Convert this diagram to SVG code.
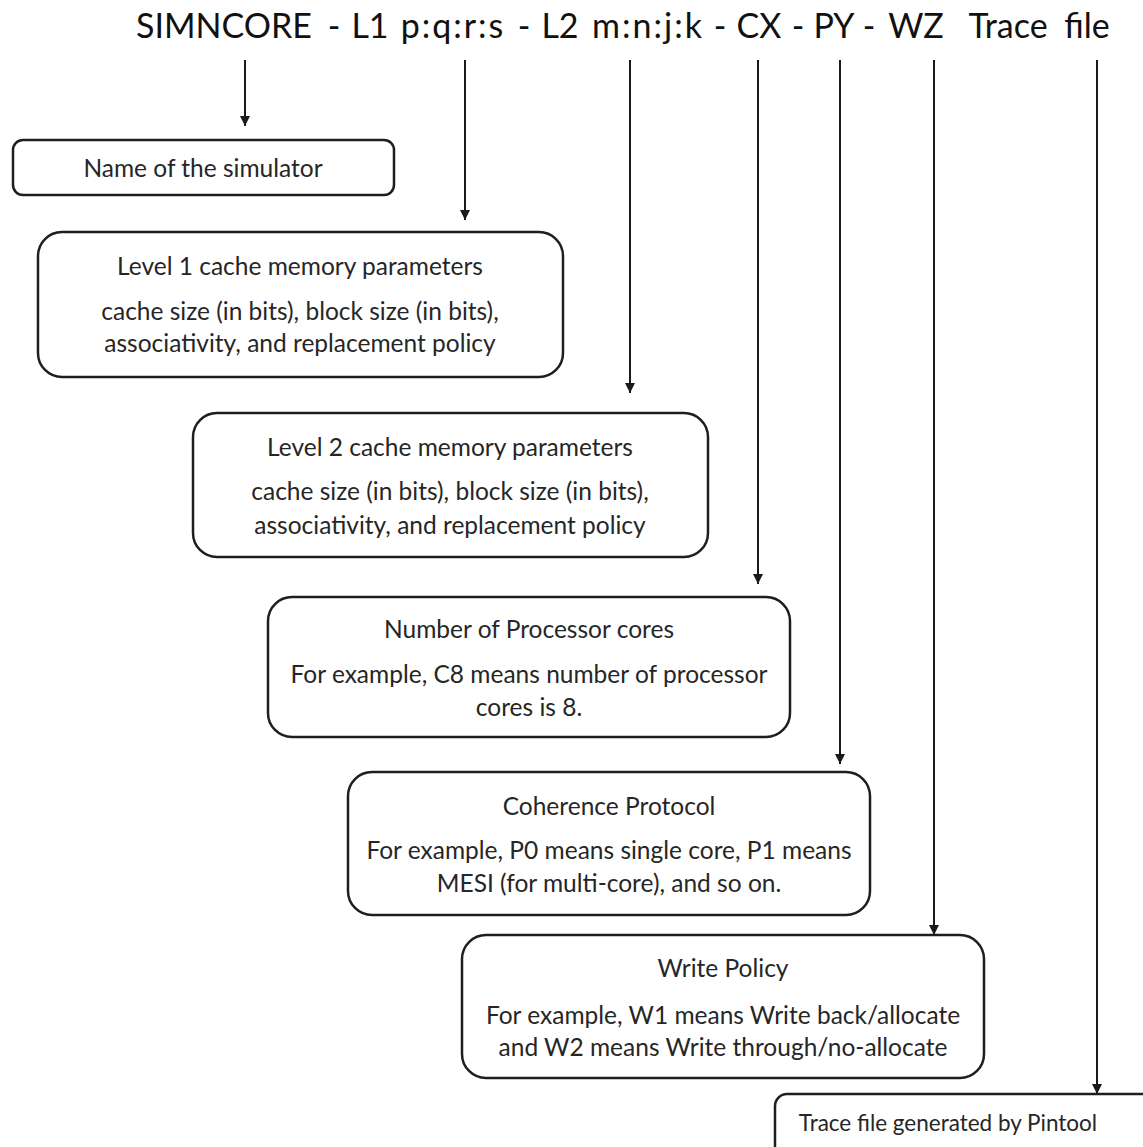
<svg xmlns="http://www.w3.org/2000/svg" width="1143" height="1147" viewBox="0 0 1143 1147">
  <style>
    .box { fill: #ffffff; stroke: #1e1e1e; stroke-width: 2.5; }
    .lbl { font-family: Lato, "Open Sans", "Liberation Sans", sans-serif; font-size: 24.5px; fill: #262626; text-anchor: middle; }
    .title { font-family: Lato, "Open Sans", "Liberation Sans", sans-serif; font-size: 34px; fill: #111; text-anchor: middle; }
    .wide { letter-spacing: 2px; }
    .conn { stroke: #1a1a1a; stroke-width: 2; fill: none; marker-end: url(#head); }
  </style>
  <defs>
    <marker id="head" viewBox="0 0 10 10" refX="10" refY="5" markerWidth="5" markerHeight="5" markerUnits="strokeWidth" orient="auto">
      <path d="M0,0 L10,5 L0,10 Z" fill="#1a1a1a"/>
    </marker>
  </defs>

  <rect width="1143" height="1147" fill="#ffffff"/>

  <!-- file-name pattern; each field is centred on its own x -->
  <text class="title" y="38"><tspan x="224">SIMNCORE</tspan><tspan x="334">-</tspan><tspan x="370">L1</tspan><tspan class="wide" x="453">p:q:r:s</tspan><tspan x="524">-</tspan><tspan x="560">L2</tspan><tspan class="wide" x="648">m:n:j:k</tspan><tspan x="720">-</tspan><tspan x="759">CX</tspan><tspan x="798">-</tspan><tspan x="834">PY</tspan><tspan x="869">-</tspan><tspan x="916">WZ</tspan><tspan x="1008">Trace</tspan><tspan x="1087">file</tspan></text>

  <g id="connectors">
    <line class="conn" x1="245" y1="60" x2="245" y2="126"/>
    <line class="conn" x1="465" y1="60" x2="465" y2="220"/>
    <line class="conn" x1="630" y1="60" x2="630" y2="393"/>
    <line class="conn" x1="758" y1="60" x2="758" y2="584"/>
    <line class="conn" x1="840" y1="60" x2="840" y2="764"/>
    <line class="conn" x1="934" y1="60" x2="934" y2="935"/>
    <line class="conn" x1="1097" y1="60" x2="1097" y2="1094"/>
  </g>

  <g id="simulator-name">
    <rect class="box" x="13" y="140" width="381" height="55" rx="10"/>
    <text class="lbl" x="203" y="177">Name of the simulator</text>
  </g>

  <g id="l1-params">
    <rect class="box" x="38" y="232" width="525" height="145" rx="24"/>
    <text class="lbl" x="300" y="275">Level 1 cache memory parameters</text>
    <text class="lbl" x="300" y="320">cache size (in bits), block size (in bits),</text>
    <text class="lbl" x="300" y="352">associativity, and replacement policy</text>
  </g>

  <g id="l2-params">
    <rect class="box" x="193" y="413" width="515" height="144" rx="24"/>
    <text class="lbl" x="450" y="456">Level 2 cache memory parameters</text>
    <text class="lbl" x="450" y="500">cache size (in bits), block size (in bits),</text>
    <text class="lbl" x="450" y="534">associativity, and replacement policy</text>
  </g>

  <g id="cores">
    <rect class="box" x="268" y="597" width="522" height="140" rx="24"/>
    <text class="lbl" x="529" y="638">Number of Processor cores</text>
    <text class="lbl" x="529" y="683">For example, C8 means number of processor</text>
    <text class="lbl" x="529" y="716">cores is 8.</text>
  </g>

  <g id="coherence">
    <rect class="box" x="348" y="772" width="522" height="143" rx="24"/>
    <text class="lbl" x="609" y="815">Coherence Protocol</text>
    <text class="lbl" x="609" y="859">For example, P0 means single core, P1 means</text>
    <text class="lbl" x="609" y="892">MESI (for multi-core), and so on.</text>
  </g>

  <g id="write-policy">
    <rect class="box" x="462" y="935" width="522" height="143" rx="24"/>
    <text class="lbl" x="723" y="977">Write Policy</text>
    <text class="lbl" x="723" y="1024">For example, W1 means Write back/allocate</text>
    <text class="lbl" x="723" y="1056">and W2 means Write through/no-allocate</text>
  </g>

  <g id="trace-file">
    <rect class="box" x="775" y="1094" width="390" height="70" rx="12"/>
    <text class="lbl" x="948" y="1131" style="font-size:22.5px">Trace file generated by Pintool</text>
  </g>
</svg>
